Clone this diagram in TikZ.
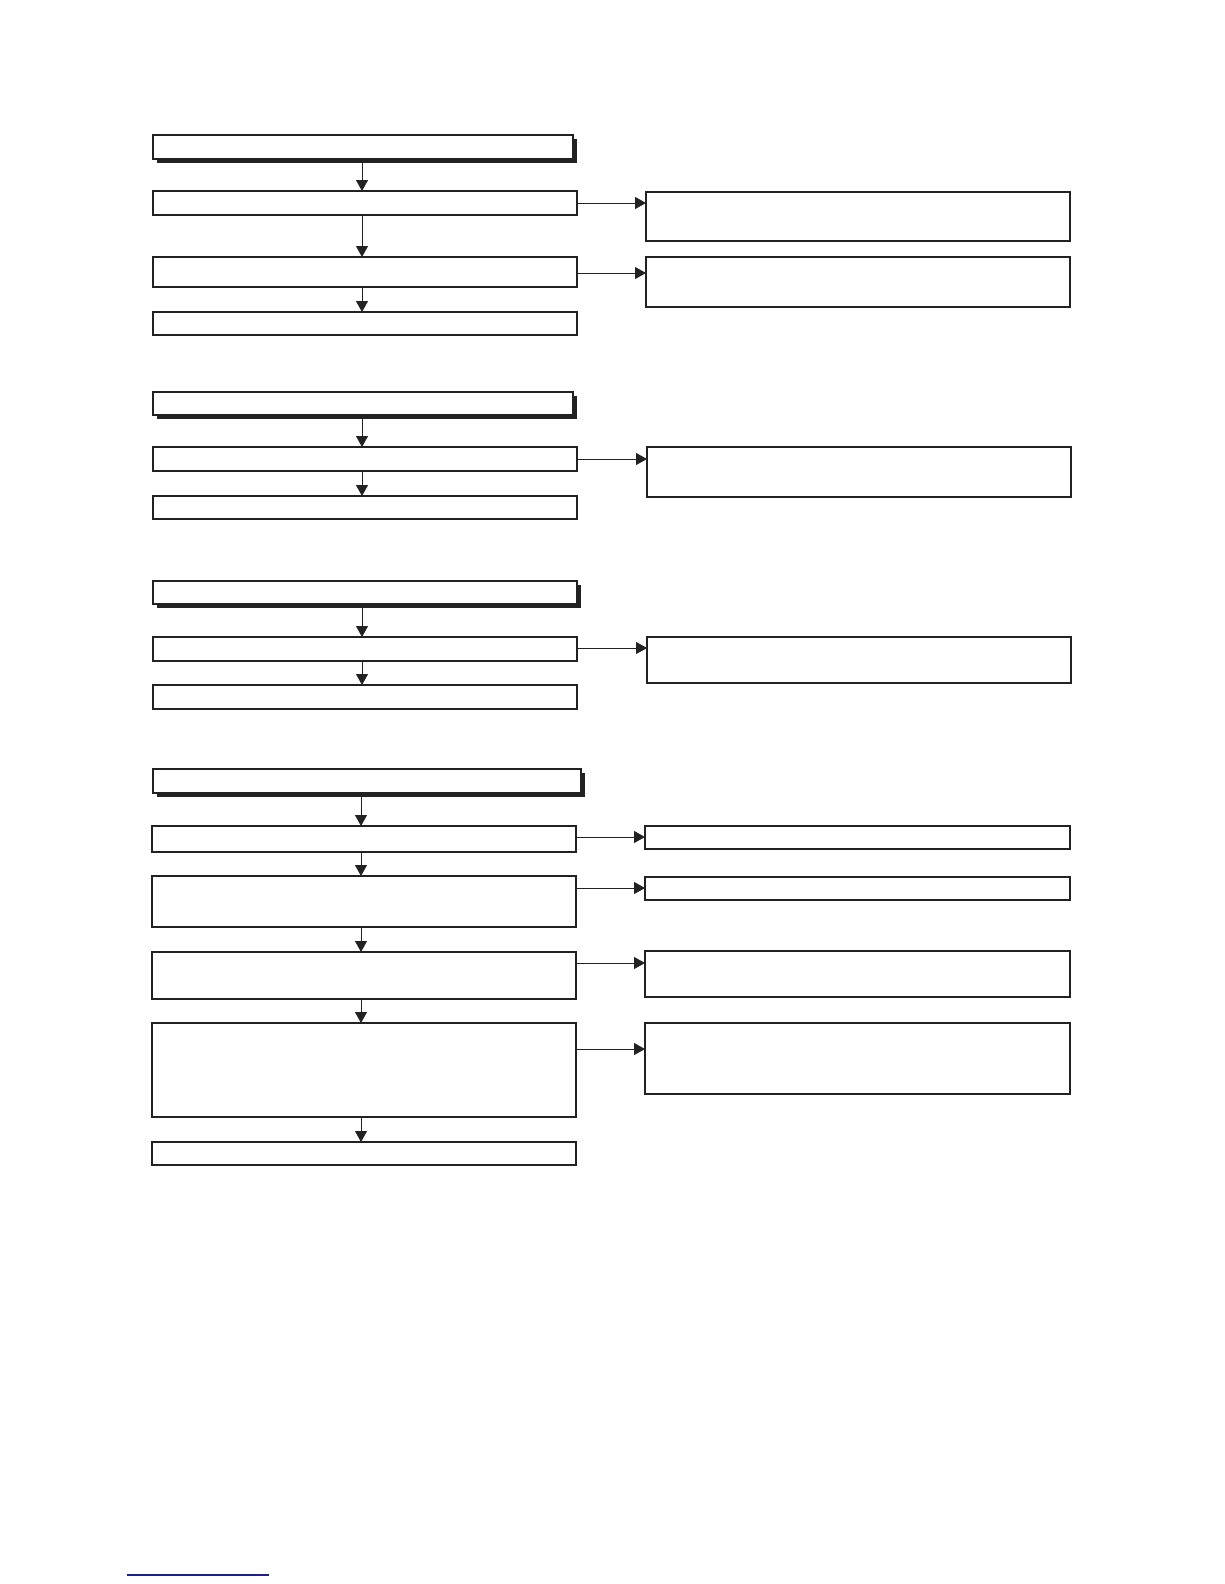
\documentclass[tikz,border=0pt]{standalone}
\usetikzlibrary{arrows.meta,fit,shadows}
\definecolor{ink}{HTML}{222222}
\definecolor{rule}{HTML}{1F1F8F}
\begin{document}
\begin{tikzpicture}[x=1pt,y=-1pt,
  box/.style={draw=ink,line width=1.05pt,fill=white,inner sep=0pt,outer sep=0pt},
  hbox/.style={box,drop shadow={shadow xshift=3.5pt,shadow yshift=-4pt,fill=ink,opacity=1}},
  arr/.style={draw=ink,line width=0.9pt,-{Triangle[length=11pt,width=12pt]}}]
\useasboundingbox[fill=white] (0,0) rectangle (1224,1584);

% ---- section 1
\node[hbox,fit={(153,135) (573,159)}] (h1) {};
\node[box,fit={(153,191) (577,215)}] (b11) {};
\node[box,fit={(153,257) (577,287)}] (b12) {};
\node[box,fit={(153,312) (577,335)}] (b13) {};
\node[box,fit={(646,192) (1070,241)}] (r11) {};
\node[box,fit={(646,257) (1070,307)}] (r12) {};
\coordinate (c1) at (362,0);
\coordinate (y11) at (0,203);
\coordinate (y12) at (0,273);
\draw[arr] (h1.south -| c1) -- (b11.north -| c1);
\draw[arr] (b11.south -| c1) -- (b12.north -| c1);
\draw[arr] (b12.south -| c1) -- (b13.north -| c1);
\draw[arr] (b11.east |- y11) -- (r11.west |- y11);
\draw[arr] (b12.east |- y12) -- (r12.west |- y12);

% ---- section 2
\node[hbox,fit={(153,392) (573,415)}] (h2) {};
\node[box,fit={(153,447) (577,471)}] (b21) {};
\node[box,fit={(153,496) (577,519)}] (b22) {};
\node[box,fit={(647,447) (1071,497)}] (r21) {};
\coordinate (y21) at (0,459);
\draw[arr] (h2.south -| c1) -- (b21.north -| c1);
\draw[arr] (b21.south -| c1) -- (b22.north -| c1);
\draw[arr] (b21.east |- y21) -- (r21.west |- y21);

% ---- section 3
\node[hbox,fit={(153,581) (577,604)}] (h3) {};
\node[box,fit={(153,637) (577,661)}] (b31) {};
\node[box,fit={(153,685) (577,709)}] (b32) {};
\node[box,fit={(647,637) (1071,683)}] (r31) {};
\coordinate (y31) at (0,648);
\draw[arr] (h3.south -| c1) -- (b31.north -| c1);
\draw[arr] (b31.south -| c1) -- (b32.north -| c1);
\draw[arr] (b31.east |- y31) -- (r31.west |- y31);

% ---- section 4
\node[hbox,fit={(153,769) (581,793)}] (h4) {};
\node[box,fit={(152,826) (576,852)}] (b41) {};
\node[box,fit={(152,876) (576,927)}] (b42) {};
\node[box,fit={(152,952) (576,999)}] (b43) {};
\node[box,fit={(152,1023) (576,1117)}] (b44) {};
\node[box,fit={(152,1142) (576,1165)}] (b45) {};
\node[box,fit={(645,826) (1070,849)}] (r41) {};
\node[box,fit={(645,877) (1070,900)}] (r42) {};
\node[box,fit={(645,951) (1070,997)}] (r43) {};
\node[box,fit={(645,1023) (1070,1094)}] (r44) {};
\coordinate (c4) at (361,0);
\coordinate (y41) at (0,837);
\coordinate (y42) at (0,888);
\coordinate (y43) at (0,963);
\coordinate (y44) at (0,1049);
\draw[arr] (h4.south -| c4) -- (b41.north -| c4);
\draw[arr] (b41.south -| c4) -- (b42.north -| c4);
\draw[arr] (b42.south -| c4) -- (b43.north -| c4);
\draw[arr] (b43.south -| c4) -- (b44.north -| c4);
\draw[arr] (b44.south -| c4) -- (b45.north -| c4);
\draw[arr] (b41.east |- y41) -- (r41.west |- y41);
\draw[arr] (b42.east |- y42) -- (r42.west |- y42);
\draw[arr] (b43.east |- y43) -- (r43.west |- y43);
\draw[arr] (b44.east |- y44) -- (r44.west |- y44);

% ---- footer rule
\draw[rule,line width=1.2pt] (127,1575) -- (269,1575);
\end{tikzpicture}
\end{document}
